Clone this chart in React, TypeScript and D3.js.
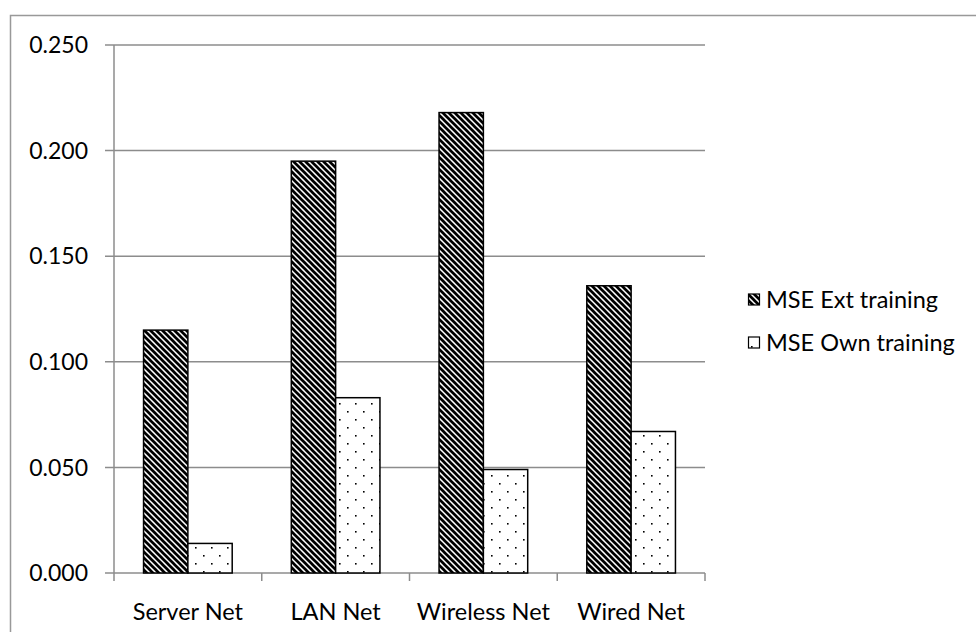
import React from "react";
import * as d3 from "d3";

const categories = ["Server Net", "LAN Net", "Wireless Net", "Wired Net"];
const seriesNames = ["MSE Ext training", "MSE Own training"];
const extValues = [0.115, 0.195, 0.218, 0.136];
const ownValues = [0.014, 0.083, 0.049, 0.067];
const yTicks = [0, 0.05, 0.1, 0.15, 0.2, 0.25];

const W = 976;
const H = 632;
const FONT = "Lato, 'Open Sans', sans-serif";

export default function App() {
  const left = 114;
  const right = 705;
  const top = 45;
  const bottom = 573;

  const x = d3.scaleBand<string>().domain(categories).range([left, right]).paddingInner(0.4).paddingOuter(0.2);
  const xOuter = d3.scaleBand<string>().domain(categories).range([left, right]);
  const xs = d3.scaleBand<string>().domain(seriesNames).range([0, x.bandwidth()]);
  const y = d3.scaleLinear().domain([0, 0.25]).range([bottom, top]);

  const series = [extValues, ownValues];
  const fills = ["url(#hatch)", "url(#dots)"];

  return (
    <svg width={W} height={H} style={{ position: "absolute", left: 0, top: 0, background: "#fff" }}>
      <defs>
        <pattern id="hatch" patternUnits="userSpaceOnUse" width="6" height="6">
          <rect width="6" height="6" fill="#fff" />
          <path d="M-1,-1 L7,7 M-4,2 L2,8 M2,-4 L8,2" stroke="#000" strokeWidth="2.7" />
        </pattern>
        <pattern id="dots" patternUnits="userSpaceOnUse" width="16" height="16">
          <rect width="16" height="16" fill="#fff" />
          <rect x="3" y="3" width="1.6" height="1.6" fill="#000" />
          <rect x="11" y="11" width="1.6" height="1.6" fill="#000" />
        </pattern>
      </defs>
      <rect x={0} y={0} width={W} height={H} fill="#fff" />
      <rect x={10.5} y={15.5} width={W + 10} height={H + 10} fill="none" stroke="#999" strokeWidth={1.5} />

      {yTicks.map((t) => (
        <g key={t}>
          <line x1={left - 9} x2={right} y1={y(t)} y2={y(t)} stroke="#8c8c8c" strokeWidth={1.5} />
          <text x={88} y={y(t)} dy="0.36em" textAnchor="end" fontFamily={FONT} fontSize={23} fill="#000">
            {t.toFixed(3)}
          </text>
        </g>
      ))}
      <line x1={left} x2={left} y1={top} y2={bottom} stroke="#8c8c8c" strokeWidth={1.5} />
      {categories.map((c, i) => (
        <line key={"t" + i} x1={xOuter(c)!} x2={xOuter(c)!} y1={bottom} y2={bottom + 8} stroke="#8c8c8c" strokeWidth={1.5} />
      ))}
      <line x1={right} x2={right} y1={bottom} y2={bottom + 8} stroke="#8c8c8c" strokeWidth={1.5} />

      {categories.map((c, i) =>
        series.map((vals, s) => (
          <rect
            key={c + s}
            x={x(c)! + xs(seriesNames[s])!}
            y={y(vals[i])}
            width={xs.bandwidth()}
            height={bottom - y(vals[i])}
            fill={fills[s]}
            stroke="#000"
            strokeWidth={1.5}
          />
        ))
      )}

      {categories.map((c) => (
        <text key={c} x={xOuter(c)! + xOuter.bandwidth() / 2} y={612} textAnchor="middle" dy="0.36em" fontFamily={FONT} fontSize={23.5} fill="#000">
          {c}
        </text>
      ))}

      {seriesNames.map((n, i) => (
        <g key={n} transform={`translate(748, ${300 + i * 43})`}>
          <rect x={0.5} y={-6} width={11} height={11} fill={fills[i]} stroke="#000" strokeWidth={1.2} />
          <text x={18} y={0} dy="0.36em" fontFamily={FONT} fontSize={23.5} fill="#000">
            {n}
          </text>
        </g>
      ))}
    </svg>
  );
}
